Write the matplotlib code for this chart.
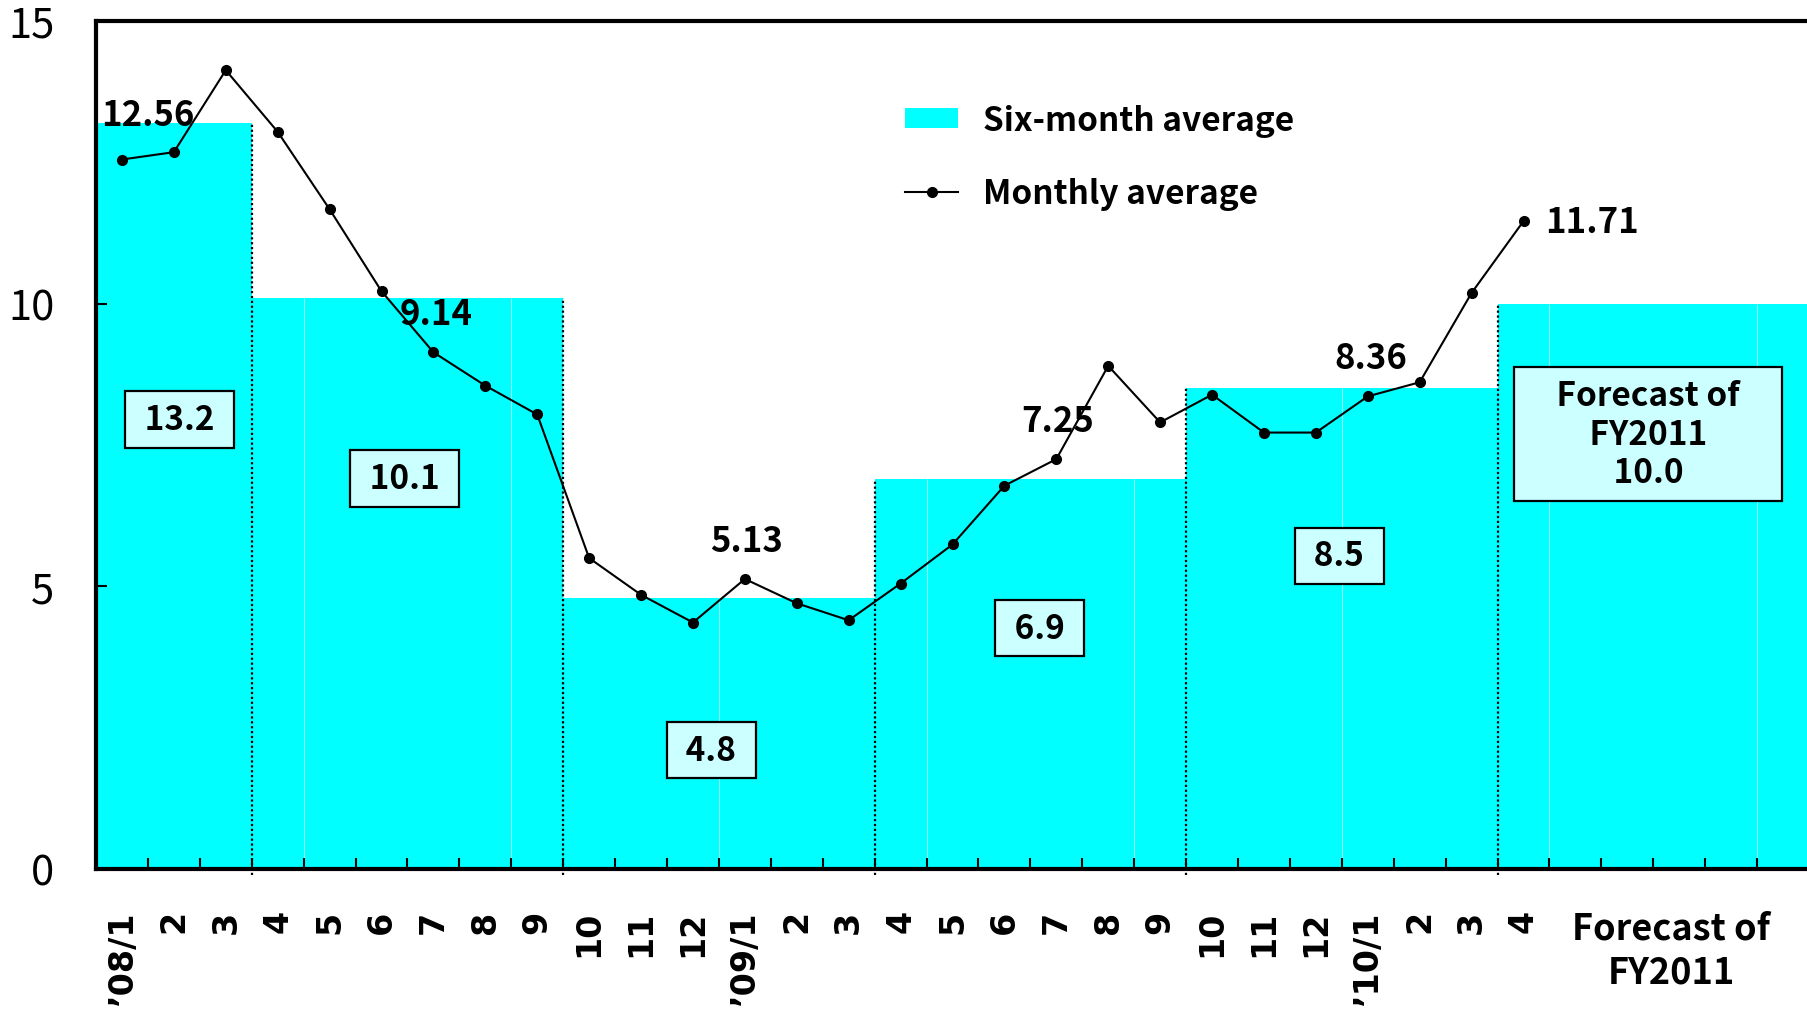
import numpy as np
import matplotlib
matplotlib.use('Agg')
import matplotlib.pyplot as plt

plt.rcParams['font.family'] = ['Noto Sans CJK JP', 'DejaVu Sans']

# monthly averages, Jan 2008 - Apr 2010
month_labels = ['’08/1', '2', '3', '4', '5', '6', '7', '8', '9', '10', '11', '12',
                '’09/1', '2', '3', '4', '5', '6', '7', '8', '9', '10', '11', '12',
                '’10/1', '2', '3', '4']
monthly = [12.55, 12.68, 14.13, 13.04, 11.67, 10.22, 9.14, 8.55, 8.04, 5.50, 4.85, 4.36,
           5.13, 4.70, 4.40, 5.05, 5.74, 6.78, 7.25, 8.90, 7.90, 8.39, 7.72, 7.72,
           8.36, 8.61, 10.19, 11.46]

# six-month averages (first period only has 3 months, last is the forecast)
period_months = [3, 6, 6, 6, 6, 6]
period_avg = [13.2, 10.1, 4.8, 6.9, 8.5, 10.0]
period_text = ['13.2', '10.1', '4.8', '6.9', '8.5', 'Forecast of\nFY2011\n10.0']
forecast_label = 'Forecast of\nFY2011'

# labelled monthly points
callout_text = ['12.56', '9.14', '5.13', '7.25', '8.36', '11.71']

cyan = '#00ffff'
lefts = np.concatenate([[0], np.cumsum(period_months)[:-1]])
ends = np.cumsum(period_months)
nx = ends[-1]

fig = plt.figure(figsize=(18.07, 10.12), dpi=100)
ax = fig.add_axes([96/1807, 1 - 870/1012, 1713/1807, (870 - 22)/1012])

bars = ax.bar(lefts, period_avg, width=period_months, align='edge',
              color=cyan, linewidth=0, zorder=1)

# faint seams inside the bars every 4 months
for xs in range(4, nx, 4):
    k = np.searchsorted(ends, xs, side='right')
    ax.vlines(xs, 0, period_avg[k], colors='#8cffff', lw=0.8, zorder=1.5)

# dotted separators between periods
for k in range(1, len(period_avg)):
    ax.vlines(lefts[k], -0.1, max(period_avg[k-1], period_avg[k]), colors='k',
              linestyles=(0, (1, 1.2)), lw=1.6, zorder=2, clip_on=False)

xm = np.arange(len(monthly)) + 0.5
line, = ax.plot(xm, monthly, color='k', lw=1.5, marker='o', ms=7, zorder=3)

# boxes with six-month values
box_pos = [(1.61, 7.95), (5.94, 6.91), (11.85, 2.10), (18.18, 4.26), (23.95, 5.54), (29.9, 7.69)]
for (bx, by), s in zip(box_pos, period_text):
    if '\n' in s:
        s = '\n'.join(['    ' + t + '    ' for t in s.split('\n')])
        pad, ls = 0.36, 1.22
    else:
        s = ' ' + s + ' '
        pad, ls = 0.35, 1.0
    ax.text(bx, by, s, ha='center', va='center', fontsize=24, fontweight='bold',
            linespacing=ls, zorder=4,
            bbox=dict(boxstyle='square,pad=%s' % pad, fc='#ccffff', ec='k', lw=1.6))

# callout values on the monthly line
callout_pos = [(0.99, 13.34), (6.55, 9.82), (12.54, 5.81), (18.53, 7.93), (24.56, 9.05), (27.92, 11.45)]
for (tx, ty), s in zip(callout_pos, callout_text):
    ax.text(tx, ty, s, ha='left' if s == '11.71' else 'center', va='center',
            fontsize=25, fontweight='bold', zorder=5)

ax.set_xlim(0, nx)
ax.set_ylim(0, 15)

ax.set_yticks([0, 5, 10, 15])
ax.tick_params(axis='y', direction='in', length=8, width=1.5, labelsize=30, pad=30)

ax.set_xticks(list(xm) + [30.35])
ax.set_xticklabels(month_labels + [forecast_label])
ax.set_xticks(np.arange(1, nx), minor=True)
ax.tick_params(axis='x', which='major', length=0, pad=29)
ax.tick_params(axis='x', which='minor', direction='in', length=8, width=1.5)
xl = ax.get_xticklabels()
for t in xl[:-1]:
    t.set_rotation(90)
    t.set_fontfamily('DejaVu Sans')
    t.set_fontweight('bold')
    t.set_fontsize(24)
xl[-1].set_fontsize(26)
xl[-1].set_fontweight('bold')
xl[-1].set_linespacing(1.25)

for sp in ax.spines.values():
    sp.set_linewidth(3)
ax.spines['right'].set_visible(False)

ax.legend([bars, line], ['Six-month average', 'Monthly average'],
          loc='upper left', bbox_to_anchor=(905/1807, 1 - 105/1012),
          bbox_transform=fig.transFigure, frameon=False,
          prop=dict(size=24, weight='bold'), handlelength=1.6, handleheight=0.55,
          handletextpad=0.75, labelspacing=1.2, borderpad=0, borderaxespad=0)

fig.savefig('out.png', dpi=100)
